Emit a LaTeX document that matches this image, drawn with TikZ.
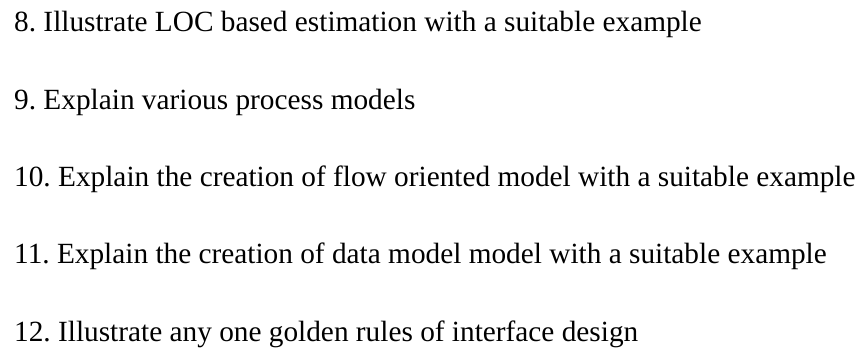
\documentclass[tikz,border=0pt]{standalone}
\usepackage{fontspec}
\setmainfont{Liberation Serif}
\usetikzlibrary{positioning}
\frenchspacing

\begin{document}
\begin{tikzpicture}[
    x = 1pt, y = 1pt,
    font = \fontsize{29.3}{33}\selectfont
  ]

  \useasboundingbox (0,0) rectangle (860,354);

  \tikzstyle {every node} = [color = black, inner sep = 0, anchor = base west]
  \tikzstyle {q} = [anchor = base west]

  \node (8) at (14,322) {8. Illustrate LOC based estimation with a suitable example};
  \node [below = 77.25pt of 8.base west, q] (9) {9. Explain various process models};
  \node [below = 77.25pt of 9.base west, q] (10) {10. Explain the creation of flow oriented model with a suitable example};
  \node [below = 77.25pt of 10.base west, q] (11) {11. Explain the creation of data model model with a suitable example};
  \node [below = 77.25pt of 11.base west, q] (12) {12. Illustrate any one golden rules of interface design};
\end{tikzpicture}
\end{document}
